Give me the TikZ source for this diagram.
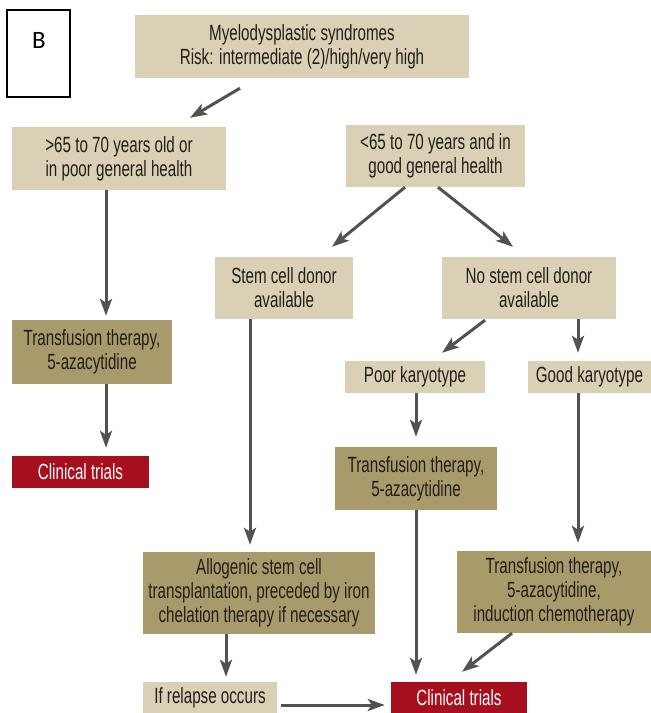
\documentclass[tikz,border=0pt]{standalone}
\usepackage{fontspec}
\setmainfont{Liberation Sans}[FakeStretch=0.69]
\newfontfamily\bfont{Carlito}
\usetikzlibrary{arrows.meta}
\definecolor{lightbox}{RGB}{217,208,181}
\definecolor{darkbox}{RGB}{168,154,106}
\definecolor{redbox}{RGB}{166,16,30}
\definecolor{arrowc}{RGB}{82,82,82}
\definecolor{txt}{RGB}{34,30,26}
\tikzset{
  box/.style={inner sep=0pt, align=center, text=txt, font=\fontsize{22}{24}\selectfont},
  lbox/.style={box, fill=lightbox},
  dbox/.style={box, fill=darkbox},
  rbox/.style={box, fill=redbox, text=white},
  arr/.style={draw=arrowc, line width=3pt, -{Stealth[length=17pt,width=12pt,inset=4pt]}}
}
\begin{document}
\begin{tikzpicture}[x=1pt,y=-1pt]
\useasboundingbox (0,0) rectangle (651,713);
% B label box
\node[draw=black, line width=2pt, minimum width=63pt, minimum height=87pt, inner sep=0pt] (Bbox) at (38.5,53) {};
\node[font=\bfont\fontsize{25}{25}\selectfont, inner sep=0pt] (Blabel) at (39,40) {B};
% boxes
\node[lbox, minimum width=334pt, minimum height=63pt] (top) at (302,46.5) {Myelodysplastic syndromes\\Risk: intermediate (2)/high/very high};
\node[lbox, minimum width=214pt, minimum height=63pt] (left1) at (119,158.5) {>65 to 70 years old or\\in poor general health};
\node[lbox, minimum width=179pt, minimum height=62pt] (right1) at (435.5,156) {<65 to 70 years and in\\good general health};
\node[lbox, minimum width=138pt, minimum height=62pt] (stem) at (284,288) {Stem cell donor\\available};
\node[lbox, minimum width=174pt, minimum height=62pt] (nostem) at (529,288) {No stem cell donor\\available};
\node[dbox, minimum width=160pt, minimum height=64pt] (transL) at (92,352) {Transfusion therapy,\\5-azacytidine};
\node[rbox, minimum width=137pt, minimum height=32pt] (ctL) at (80.5,472) {Clinical trials};
\node[lbox, minimum width=140pt, minimum height=32pt] (poor) at (415,377) {Poor karyotype};
\node[lbox, minimum width=123pt, minimum height=32pt] (good) at (589.5,377) {Good karyotype};
\node[dbox, minimum width=162pt, minimum height=63pt] (transM) at (416,478.5) {Transfusion therapy,\\5-azacytidine};
\node[dbox, minimum width=232pt, minimum height=82pt] (allo) at (259,593) {Allogenic stem cell\\transplantation, preceded by iron\\chelation therapy if necessary};
\node[dbox, minimum width=194pt, minimum height=82pt] (transR) at (554,592) {Transfusion therapy,\\5-azacytidine,\\induction chemotherapy};
\node[lbox, minimum width=134pt, minimum height=31pt] (relapse) at (210,697.5) {If relapse occurs};
\node[rbox, minimum width=136pt, minimum height=31pt] (ctB) at (459,697.5) {Clinical trials};
% connectors
\draw[arr] ([xshift=-62pt,yshift=-10pt]top.south) -- ([xshift=71pt,yshift=9pt]left1.north);
\draw[arr] ([xshift=-13pt]left1.south) -- ([xshift=14pt,yshift=4pt]transL.north);
\draw[arr] ([xshift=14pt]transL.south) -- ([xshift=25.5pt,yshift=8pt]ctL.north);
\draw[arr] ([xshift=-30.5pt]right1.south) -- ([xshift=48pt,yshift=10pt]stem.north);
\draw[arr] ([xshift=2.5pt]right1.south) -- ([xshift=-16pt,yshift=10pt]nostem.north);
\draw[arr] ([xshift=-34pt]stem.south) -- ([xshift=-9pt,yshift=7pt]allo.north);
\draw[arr] ([xshift=-44pt,yshift=-1pt]nostem.south) -- ([xshift=27pt,yshift=8pt]poor.north);
\draw[arr] ([xshift=49pt]nostem.south) -- ([xshift=-11.5pt,yshift=8pt]good.north);
\draw[arr] ([xshift=1pt]poor.south) -- ([yshift=10pt]transM.north);
\draw[arr] ([xshift=-11.5pt]good.south) -- ([xshift=24pt,yshift=8pt]transR.north);
\draw[arr] (transM.south) -- ([xshift=-43pt,yshift=7pt]ctB.north);
\draw[arr] ([xshift=-42pt]transR.south) -- ([xshift=3pt,yshift=10pt]ctB.north);
\draw[arr] ([xshift=-33pt]allo.south) -- ([xshift=16pt,yshift=5pt]relapse.north);
\draw[arr] ([xshift=4pt,yshift=-7.5pt]relapse.east) -- ([xshift=-6pt,yshift=-7.5pt]ctB.west);
\end{tikzpicture}
\end{document}
